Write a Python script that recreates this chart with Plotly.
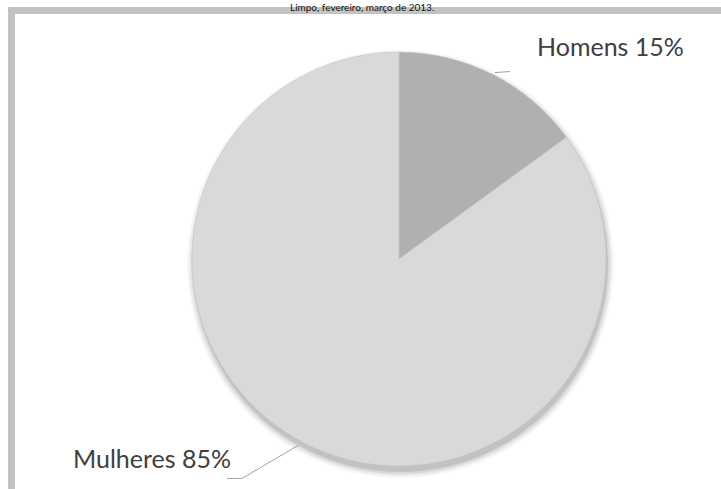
import math
import plotly.graph_objects as go

labels = ["Homens", "Mulheres"]
values = [15, 85]
colors = ["#b0b0b0", "#d9d9d9"]
title_text = "Limpo, fevereiro, março de 2013."

W, H = 721, 489
cx, cy, r = 399, 259, 207

def px(x):
    return x / W

def py(y):
    return 1 - y / H

fig = go.Figure()
fig.add_trace(go.Pie(
    labels=labels, values=values, sort=False, direction="clockwise", rotation=0,
    marker=dict(colors=colors, line=dict(color="#c4c4c4", width=0.6)),
    textinfo="none", hoverinfo="label+percent", showlegend=False,
    domain=dict(x=[px(cx - r), px(cx + r)], y=[py(cy + r), py(cy - r)]),
))

shapes = []
# frame bands
shapes.append(dict(type="rect", xref="paper", yref="paper", x0=px(8), x1=1, y0=py(14), y1=py(7),
                   fillcolor="#c3c3c3", line=dict(width=0), layer="below"))
shapes.append(dict(type="rect", xref="paper", yref="paper", x0=px(8), x1=px(15), y0=0, y1=py(7),
                   fillcolor="#c3c3c3", line=dict(width=0), layer="below"))
# soft shadow (offset downward)
for dr, op in [(7, 0.03), (5, 0.05), (3, 0.07), (1, 0.10)]:
    shapes.append(dict(type="circle", xref="paper", yref="paper",
                       x0=px(cx - r - dr + 2), x1=px(cx + r + dr + 1),
                       y0=py(cy + r + dr + 5), y1=py(cy - r - dr + 5),
                       fillcolor="rgba(0,0,0,%.2f)" % op, line=dict(width=0), layer="below"))

# leader lines and labels computed from slice midpoints
total = sum(values)
cum = 0
annotations = []
label_pos = [(610, 46, 1), (152, 458, -1)]
for i, v in enumerate(values):
    mid = (cum + v / 2) / total * 2 * math.pi
    cum += v
    ex = cx + r * math.sin(mid)
    ey = cy - r * math.cos(mid)
    lx, ly, side = label_pos[i]
    if side == 1:
        pts = [(ex + 2, ey - 2), (ex + 17, ey - 3)]
    else:
        pts = [(ex - 7, ey + 2), (ex - 63, ey + 35), (ex - 78, ey + 35)]
    for (x0, y0), (x1, y1) in zip(pts[:-1], pts[1:]):
        shapes.append(dict(type="line", xref="paper", yref="paper", x0=px(x0), y0=py(y0),
                           x1=px(x1), y1=py(y1), line=dict(color="#a0a0a0", width=1)))
    annotations.append(dict(text="%s %d%%" % (labels[i], round(v / total * 100)),
                            x=px(lx), y=py(ly), xref="paper", yref="paper",
                            xanchor="center", yanchor="middle", showarrow=False,
                            font=dict(family="Lato", size=25, color="#404040")))

annotations.append(dict(text=title_text, x=px(362), y=1, xref="paper", yref="paper",
                        xanchor="center", yanchor="top", borderpad=0, showarrow=False,
                        font=dict(family="Lato", size=10, color="#111111")))

fig.update_layout(width=W, height=H, margin=dict(l=0, r=0, t=0, b=0),
                  paper_bgcolor="white", plot_bgcolor="white",
                  shapes=shapes, annotations=annotations)
fig.write_html("out.html")
